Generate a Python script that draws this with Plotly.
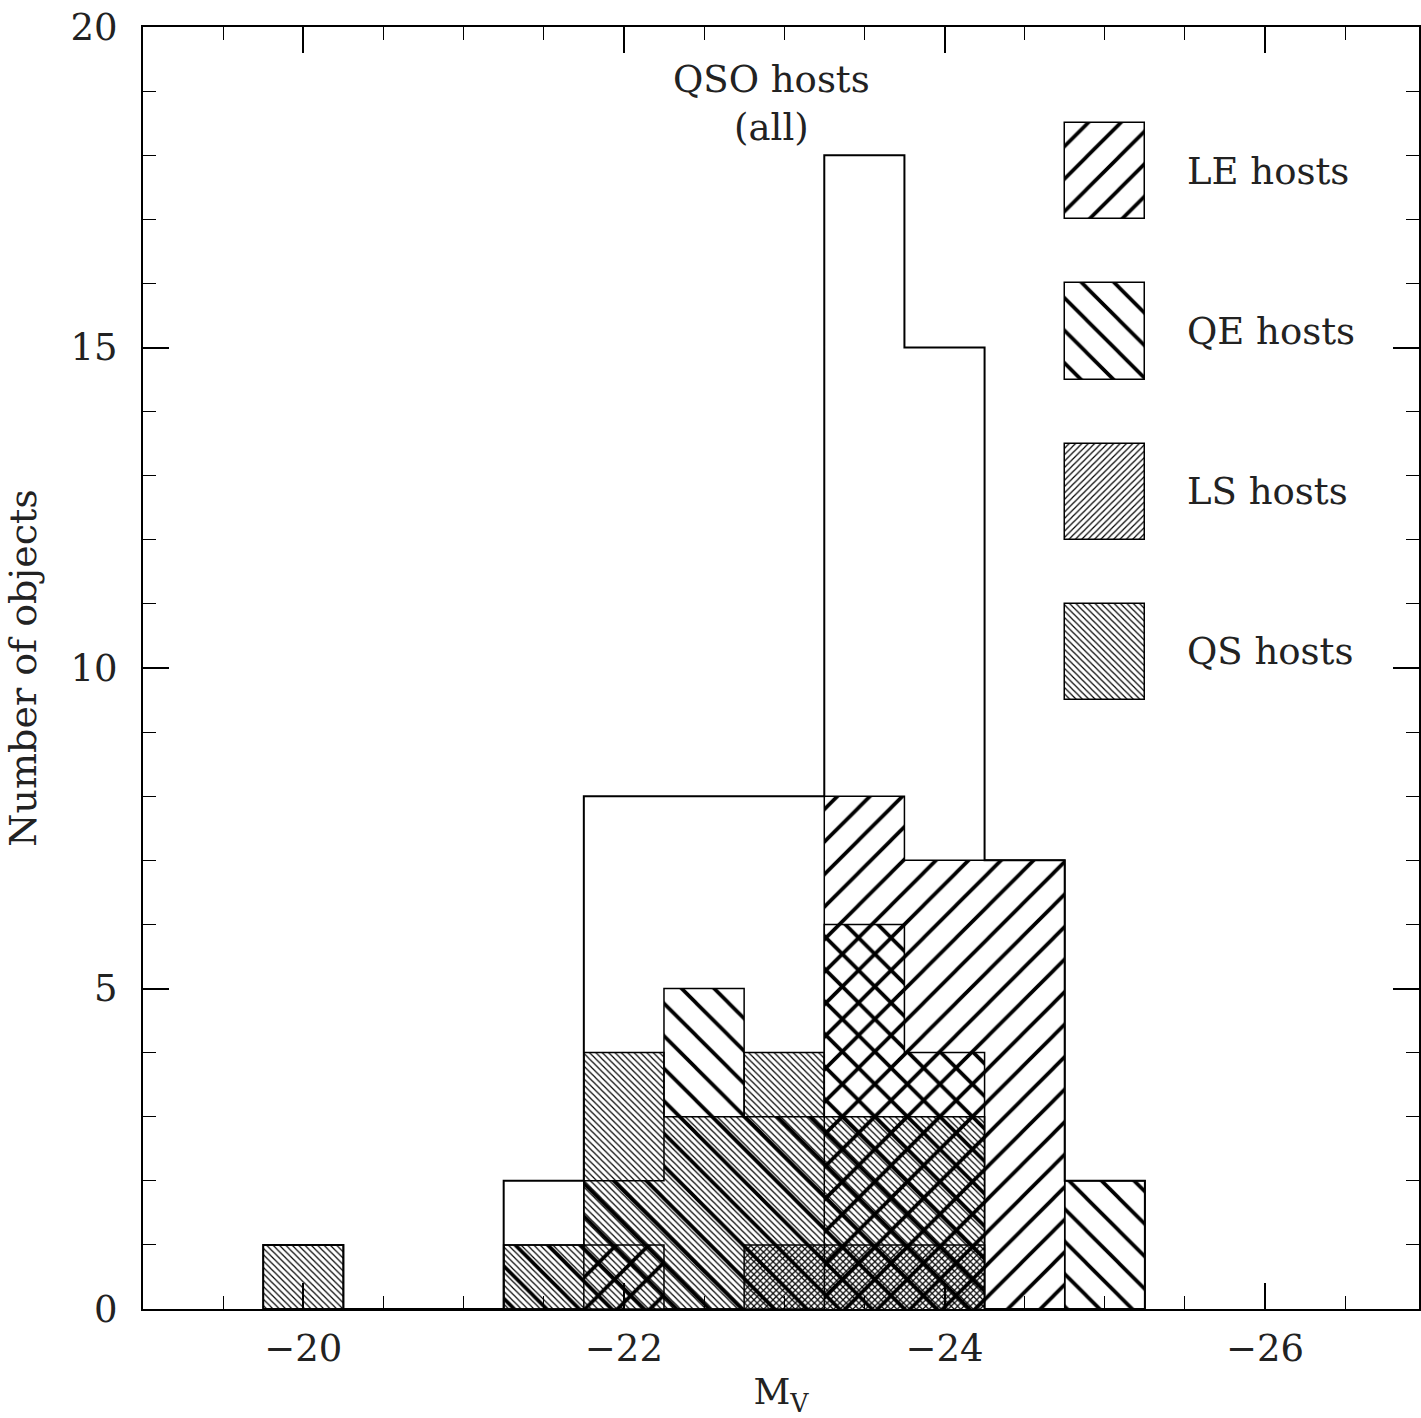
import plotly.graph_objects as go

# ---------------- data ----------------
BIN_CENTERS = [-20.0, -20.5, -21.0, -21.5, -22.0, -22.5, -23.0, -23.5, -24.0, -24.5, -25.0]
BIN_WIDTH = 0.5
ALL_HOSTS = [1, 0, 0, 2, 8, 8, 8, 18, 15, 7, 2]
LE_HOSTS = [0, 0, 0, 0, 1, 0, 0, 8, 7, 7, 0]
QE_HOSTS = [0, 0, 0, 1, 2, 5, 3, 6, 4, 0, 2]
LS_HOSTS = [0, 0, 0, 0, 0, 0, 1, 1, 1, 0, 0]
QS_HOSTS = [1, 0, 0, 1, 4, 3, 4, 3, 3, 0, 0]

SERIES_NAMES = ["LE hosts", "QE hosts", "LS hosts", "QS hosts"]
X_TICKS = [-20, -22, -24, -26]
Y_TICKS = [0, 5, 10, 15, 20]

# ---------------- styles ----------------
FONT = "DejaVu Serif"
TXT = "#222222"
PATTERNS = {
    "LE hosts": dict(shape="/", size=23, solidity=0.16),
    "QE hosts": dict(shape="\\", size=23, solidity=0.16),
    "LS hosts": dict(shape="/", size=4.5, solidity=0.26),
    "QS hosts": dict(shape="\\", size=4.5, solidity=0.26),
}
# legend layout (positions in data coordinates)
LEG_X = -25.0
LEG_Y0 = [17.0, 14.5, 12.0, 9.5]
LEG_H = 1.5
LEG_TEXT_X = -25.5

series = {
    "LE hosts": LE_HOSTS,
    "QE hosts": QE_HOSTS,
    "LS hosts": LS_HOSTS,
    "QS hosts": QS_HOSTS,
}


def step_outline(centers, counts, w):
    xs = [centers[0] + w / 2]
    ys = [0]
    for c, n in zip(centers, counts):
        xs += [c + w / 2, c - w / 2]
        ys += [n, n]
    xs.append(centers[-1] - w / 2)
    ys.append(0)
    return xs, ys


def pattern(name):
    p = PATTERNS[name]
    return dict(shape=p["shape"], size=p["size"], solidity=p["solidity"],
                fgcolor="black", fgopacity=1, bgcolor="rgba(0,0,0,0)", fillmode="overlay")


fig = go.Figure()

# hatched fills
for name in SERIES_NAMES:
    fig.add_trace(go.Bar(
        x=BIN_CENTERS, y=series[name], width=BIN_WIDTH, opacity=1,
        marker=dict(color="rgba(0,0,0,0)", opacity=1, line=dict(width=0),
                    pattern=pattern(name)),
        showlegend=False, hoverinfo="skip",
    ))

# step outlines
for name in SERIES_NAMES:
    xs, ys = step_outline(BIN_CENTERS, series[name], BIN_WIDTH)
    fig.add_trace(go.Scatter(x=xs, y=ys, mode="lines", line=dict(color="black", width=1.5),
                             showlegend=False, hoverinfo="skip"))
xs, ys = step_outline(BIN_CENTERS, ALL_HOSTS, BIN_WIDTH)
fig.add_trace(go.Scatter(x=xs, y=ys, mode="lines", line=dict(color="black", width=2),
                         showlegend=False, hoverinfo="skip"))

# custom legend boxes
for name, y0 in zip(SERIES_NAMES, LEG_Y0):
    fig.add_trace(go.Bar(
        x=[LEG_X], y=[LEG_H], base=[y0], width=BIN_WIDTH, opacity=1,
        marker=dict(color="rgba(0,0,0,0)", opacity=1, line=dict(width=1.5, color="black"),
                    pattern=pattern(name)),
        showlegend=False, hoverinfo="skip",
    ))
    fig.add_annotation(x=LEG_TEXT_X, y=y0 + LEG_H / 2, text=name, showarrow=False,
                       xanchor="left", yanchor="middle",
                       font=dict(family=FONT, size=37, color=TXT))

fig.add_annotation(x=-22.92, y=18.8, text="QSO hosts<br>(all)", showarrow=False,
                   xanchor="center", yanchor="middle",
                   font=dict(family=FONT, size=37, color=TXT))

axis_common = dict(
    showline=True, linecolor="black", linewidth=2, mirror="ticks",
    ticks="inside", ticklen=26, tickwidth=1.5, tickcolor="black",
    showgrid=False, zeroline=False,
    tickfont=dict(family=FONT, size=37, color=TXT),
)

fig.update_layout(
    width=1421, height=1418,
    margin=dict(l=143, r=0, t=27, b=109),
    paper_bgcolor="white", plot_bgcolor="white",
    barmode="overlay", bargap=0,
    showlegend=False,
    xaxis=dict(range=[-19.0, -26.96], tickvals=X_TICKS, ticklabelstandoff=6,
               minor=dict(dtick=0.5, tick0=0, ticks="inside", ticklen=13, tickwidth=1.2,
                          tickcolor="black", showgrid=False),
               title=dict(text="M<sub>V</sub>", font=dict(family=FONT, size=36, color=TXT),
                          standoff=14),
               **axis_common),
    yaxis=dict(range=[0, 20], tickvals=Y_TICKS, ticklabelstandoff=16,
               minor=dict(dtick=1, tick0=0, ticks="inside", ticklen=13, tickwidth=1.2,
                          tickcolor="black", showgrid=False),
               title=dict(text="Number of objects", font=dict(family=FONT, size=38, color=TXT),
                          standoff=22),
               **axis_common),
)

fig.write_html("out.html")
